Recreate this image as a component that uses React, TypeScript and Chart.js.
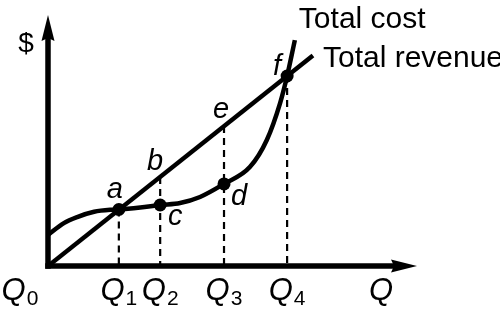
import React, { useEffect, useRef } from 'react';
import { Chart, registerables } from 'chart.js';

Chart.register(...registerables);

// ---- data (quantity units 0..100, dollar units 0..100) ----
const costQuantity = [0, 4.3, 7.9, 12.5, 17.1, 19.2, 25.0, 30.4, 35.8, 41.2, 47.7, 54.7, 59.3, 62.9, 64.8, 66.9];
const costDollars = [12.4, 17.1, 19.5, 21.6, 22.4, 22.5, 23.3, 24.3, 25.1, 27.5, 32.7, 39.4, 50.2, 64.9, 75.7, 90.0];
const revenueQuantity = [0, 71.8];
const revenueDollars = [0, 83.9];
const qSubscripts = ['1', '2', '3', '4'];
const qValues = [19.2, 30.4, 47.7, 64.8];
const dropTops = [22.5, 35.5, 55.8, 75.7];
const pointNames = ['a', 'b', 'c', 'd', 'e', 'f'];
const pointQ = [19.2, 30.4, 30.4, 47.7, 47.7, 64.8];
const pointDollars = [22.5, 35.5, 24.3, 32.7, 55.8, 75.7];
const dotNames = ['a', 'c', 'd', 'f'];
const seriesLabels = ['Total cost', 'Total revenue'];
const yAxisLabel = '$';
const xAxisLabel = 'Q';
const originSubscript = '0';

const FONT = '"Liberation Sans", Arial, Helvetica, sans-serif';

const labelOffsets: Record<string, [number, number]> = {
  a: [-4, -12],
  b: [-5, -7],
  c: [15, 20],
  d: [15, 21],
  e: [-3, -8],
  f: [-10, -1],
};

function drawQ(ctx: CanvasRenderingContext2D, cx: number, baseline: number, sub: string) {
  ctx.font = `italic 31px ${FONT}`;
  const qw = ctx.measureText('Q').width;
  ctx.font = `21px ${FONT}`;
  const sw = sub ? ctx.measureText(sub).width : 0;
  const total = qw + sw + (sub ? 1 : 0);
  const left = cx - total / 2;
  ctx.textAlign = 'left';
  ctx.textBaseline = 'alphabetic';
  ctx.font = `italic 31px ${FONT}`;
  ctx.fillText('Q', left, baseline);
  if (sub) {
    ctx.font = `21px ${FONT}`;
    ctx.fillText(sub, left + qw + 1, baseline + 5);
  }
}

const diagramPlugin = {
  id: 'diagram',
  beforeDraw(chart: any) {
    const ctx = chart.ctx;
    ctx.save();
    ctx.fillStyle = '#fff';
    ctx.fillRect(0, 0, chart.width, chart.height);
    ctx.restore();
  },
  afterDatasetsDraw(chart: any) {
    const ctx: CanvasRenderingContext2D = chart.ctx;
    const { right, top } = chart.chartArea;
    const xs = chart.scales.x;
    const ys = chart.scales.y;
    const x0 = xs.getPixelForValue(0);
    const y0 = ys.getPixelForValue(0);
    ctx.save();
    ctx.strokeStyle = '#000';
    ctx.fillStyle = '#000';
    ctx.lineWidth = 5.5;
    ctx.lineCap = 'butt';
    // y axis
    ctx.beginPath();
    ctx.moveTo(x0, y0 + 2.75);
    ctx.lineTo(x0, top + 20);
    ctx.stroke();
    ctx.beginPath();
    ctx.moveTo(x0, top);
    ctx.lineTo(x0 - 6.5, top + 26);
    ctx.lineTo(x0, top + 23);
    ctx.lineTo(x0 + 6.5, top + 26);
    ctx.closePath();
    ctx.fill();
    // x axis
    ctx.beginPath();
    ctx.moveTo(x0 - 2.75, y0);
    ctx.lineTo(right - 20, y0);
    ctx.stroke();
    ctx.beginPath();
    ctx.moveTo(right, y0);
    ctx.lineTo(right - 26, y0 - 6.5);
    ctx.lineTo(right - 23, y0);
    ctx.lineTo(right - 26, y0 + 6.5);
    ctx.closePath();
    ctx.fill();
    ctx.restore();
  },
  afterDraw(chart: any) {
    const ctx: CanvasRenderingContext2D = chart.ctx;
    const { right, top } = chart.chartArea;
    const xs = chart.scales.x;
    const ys = chart.scales.y;
    const x0 = xs.getPixelForValue(0);
    const y0 = ys.getPixelForValue(0);
    ctx.save();
    ctx.fillStyle = '#000';
    // point letters
    ctx.font = `italic 29px ${FONT}`;
    ctx.textAlign = 'center';
    ctx.textBaseline = 'alphabetic';
    pointNames.forEach((n, i) => {
      const px = xs.getPixelForValue(pointQ[i]);
      const py = ys.getPixelForValue(pointDollars[i]);
      const [dx, dy] = labelOffsets[n];
      ctx.fillText(n, px + dx, py + dy);
    });
    // Q labels
    const qBase = y0 + 34;
    drawQ(ctx, x0 - 28, qBase, originSubscript);
    qValues.forEach((q, i) => {
      drawQ(ctx, xs.getPixelForValue(q), qBase, qSubscripts[i]);
    });
    ctx.font = `italic 31px ${FONT}`;
    ctx.textAlign = 'center';
    ctx.fillText(xAxisLabel, right - 36, qBase);
    // $ label
    ctx.font = `28px ${FONT}`;
    ctx.textAlign = 'center';
    ctx.fillText(yAxisLabel, x0 - 22, top + 37);
    // series labels
    ctx.font = `30px ${FONT}`;
    ctx.textAlign = 'left';
    const tcEndX = xs.getPixelForValue(costQuantity[costQuantity.length - 1]);
    const tcEndY = ys.getPixelForValue(costDollars[costDollars.length - 1]);
    ctx.fillText(seriesLabels[0], tcEndX + 4, tcEndY - 12);
    const trEndX = xs.getPixelForValue(revenueQuantity[revenueQuantity.length - 1]);
    const trEndY = ys.getPixelForValue(revenueDollars[revenueDollars.length - 1]);
    ctx.fillText(seriesLabels[1], trEndX + 10, trEndY + 12);
    ctx.restore();
  },
};

export default function App() {
  const canvasRef = useRef<HTMLCanvasElement | null>(null);

  useEffect(() => {
    document.body.style.margin = '0';
    const canvas = canvasRef.current;
    if (!canvas) return;

    const dotIdx = dotNames.map((n) => pointNames.indexOf(n));
    const datasets: any[] = [
      {
        label: 'dots',
        data: dotIdx.map((i) => ({ x: pointQ[i], y: pointDollars[i] })),
        showLine: false,
        pointRadius: 6.5,
        pointBackgroundColor: '#000',
        pointBorderWidth: 0,
        order: 0,
      },
      {
        label: seriesLabels[0],
        data: costQuantity.map((x, i) => ({ x, y: costDollars[i] })),
        borderColor: '#000',
        borderWidth: 4.5,
        pointRadius: 0,
        cubicInterpolationMode: 'monotone',
        fill: false,
        order: 1,
      },
      {
        label: seriesLabels[1],
        data: revenueQuantity.map((x, i) => ({ x, y: revenueDollars[i] })),
        borderColor: '#000',
        borderWidth: 4.5,
        pointRadius: 0,
        fill: false,
        order: 2,
      },
      ...qValues.map((q, i) => ({
        label: 'Q' + qSubscripts[i],
        data: [
          { x: q, y: dropTops[i] },
          { x: q, y: 0 },
        ],
        borderColor: '#000',
        borderWidth: 2.2,
        borderDash: [7, 5],
        pointRadius: 0,
        fill: false,
        order: 3,
      })),
    ];

    const chart = new Chart(canvas, {
      type: 'line',
      data: { datasets },
      options: {
        animation: false,
        responsive: false,
        maintainAspectRatio: false,
        layout: { padding: { left: 48, top: 15, right: 83, bottom: 46 } },
        scales: {
          x: { type: 'linear', min: 0, max: 100, display: false },
          y: { type: 'linear', min: 0, max: 100, display: false },
        },
        plugins: {
          legend: { display: false },
          tooltip: { enabled: false },
        },
        events: [],
      },
      plugins: [diagramPlugin],
    });
    return () => chart.destroy();
  }, []);

  return (
    <div style={{ position: 'absolute', left: 0, top: 0, width: 500, height: 312 }}>
      <canvas ref={canvasRef} width={500} height={312} />
    </div>
  );
}
